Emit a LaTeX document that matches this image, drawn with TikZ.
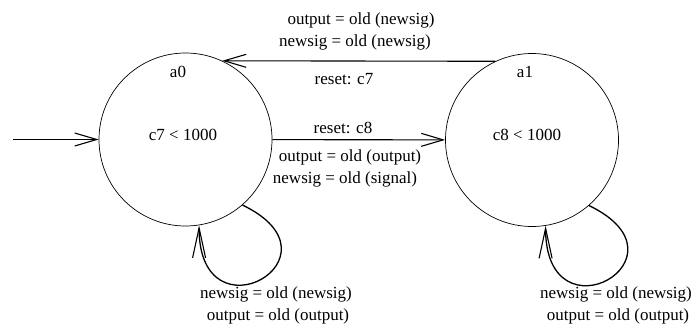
\documentclass[tikz,border=0pt]{standalone}
\usepackage{fontspec}
\setmainfont{Liberation Serif}
\usetikzlibrary{arrows.meta,calc}
\begin{document}
\begin{tikzpicture}[x=1pt,y=-1pt,
  state/.style={circle,draw,line width=0.7pt,minimum size=173pt,inner sep=0pt},
  lbl/.style={font=\fontsize{17}{20}\selectfont,inner sep=0pt},
  conn/.style={line width=1.1pt,-{Straight Barb[length=22pt,width=13pt,line width=1.1pt]}},
  loopconn/.style={line width=1.3pt,-{Straight Barb[length=30pt,width=13pt,line width=1.1pt]}}]
\useasboundingbox (0,0) rectangle (693,324);
\node[state] (a0) at (185.5,139.5) {};
\node[state] (a1) at (532,140) {};
\node[lbl] (a0name) at (178,72) {a0};
\node[lbl] (a0inv) at (183,135) {c7 < 1000};
\node[lbl] (a1name) at (525,72) {a1};
\node[lbl] (a1inv) at (527,135) {c8 < 1000};
\coordinate (start) at (13,139.5);
\draw[conn] (start) -- (a0);
\draw[conn] (a1.115) -- (a0.65);
\draw[conn] (a0) -- (a1);
\draw[loopconn] (a0.-49) .. controls ($(a0.-49)+(108,52)$) and ($(a0.-81)+(0,118)$) .. (a0.-81);
\draw[loopconn] (a1.-49) .. controls ($(a1.-49)+(108,52)$) and ($(a1.-81)+(0,118)$) .. (a1.-81);
\node[lbl] (t1) at (361,20) {output = old (newsig)};
\node[lbl] (t2) at (355,42) {newsig = old (newsig)};
\node[lbl] (t3) at (344,79) {reset: c7};
\node[lbl] (t4) at (343,128) {reset: c8};
\node[lbl] (t5) at (350,157) {output = old (output)};
\node[lbl] (t6) at (345,179) {newsig = old (signal)};
\node[lbl] (t7) at (276,294) {newsig = old (newsig)};
\node[lbl] (t8) at (278,316) {output = old (output)};
\node[lbl] (t9) at (616,294) {newsig = old (newsig)};
\node[lbl] (t10) at (618,316) {output = old (output)};
\end{tikzpicture}
\end{document}
